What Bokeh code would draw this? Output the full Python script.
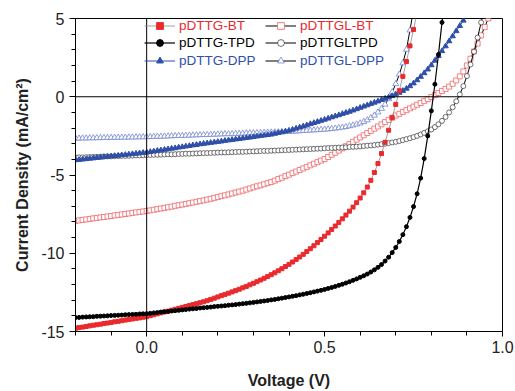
import numpy as np
from bokeh.plotting import figure
from bokeh.models import (Span, Legend, LegendItem, FixedTicker,
                          PrintfTickFormatter)
from bokeh.embed import file_html
from bokeh.resources import INLINE

# Voltage sweep grid (V), 0.01 V steps starting at -0.20 V
voltage = np.round(np.arange(-20, 98) / 100.0, 2)

# Current density (mA/cm^2) for each device
pdttg_bt = [
    -14.79, -14.75, -14.72, -14.68, -14.64, -14.60, -14.57, -14.53, -14.49, -14.46,
    -14.42, -14.38, -14.35, -14.31, -14.27, -14.24, -14.20, -14.16, -14.13, -14.09,
    -14.05,
    -13.99, -13.93, -13.87, -13.81, -13.75, -13.70, -13.64, -13.58, -13.52, -13.46,
    -13.40, -13.34, -13.28, -13.22, -13.16, -13.10, -13.03, -12.95, -12.87, -12.79,
    -12.71, -12.63, -12.55, -12.47, -12.39, -12.30, -12.21, -12.12, -12.02, -11.92,
    -11.82, -11.71, -11.60, -11.49, -11.37, -11.25, -11.12, -10.99, -10.85, -10.71,
    -10.56, -10.40, -10.24, -10.07, -9.89, -9.71, -9.52, -9.32, -9.12, -8.91,
    -8.70, -8.48, -8.26, -8.03, -7.80, -7.56, -7.31, -7.05, -6.77, -6.47,
    -6.14, -5.77, -5.34, -4.84, -4.27, -3.63, -2.91, -2.14, -1.33, -0.49,
    0.39, 1.30, 2.25, 3.25, 4.30, 5.40]

pdttgl_bt = [
    -7.93, -7.90, -7.87, -7.84, -7.81, -7.77, -7.74, -7.71, -7.68, -7.65,
    -7.62, -7.58, -7.55, -7.52, -7.49, -7.46, -7.42, -7.39, -7.36, -7.33,
    -7.30,
    -7.26, -7.22, -7.18, -7.14, -7.10, -7.06, -7.02, -6.97, -6.93, -6.89,
    -6.85, -6.80, -6.76, -6.71, -6.67, -6.62, -6.57, -6.52, -6.46, -6.41,
    -6.35, -6.30, -6.24, -6.18, -6.12, -6.06, -6.00, -5.93, -5.86, -5.79,
    -5.72, -5.66, -5.59, -5.52, -5.45, -5.36, -5.26, -5.17, -5.07, -4.98,
    -4.88, -4.78, -4.68, -4.58, -4.48, -4.38, -4.28, -4.18, -4.08, -3.98,
    -3.85, -3.71, -3.58, -3.44, -3.30, -3.16, -3.02, -2.88, -2.74, -2.60,
    -2.46, -2.32, -2.18, -2.04, -1.90, -1.76, -1.62, -1.48, -1.34, -1.20,
    -1.09, -0.97, -0.86, -0.74, -0.63, -0.51, -0.40, -0.28, -0.15, -0.02,
    0.11, 0.24, 0.37, 0.50, 0.65, 0.83, 1.04, 1.30, 1.62, 2.00,
    2.43, 2.90, 3.40, 3.92, 4.45, 5.00, 5.55]

pdttg_tpd = [
    -14.11, -14.10, -14.08, -14.07, -14.06, -14.05, -14.03, -14.02, -14.01, -14.00,
    -13.98, -13.97, -13.96, -13.95, -13.93, -13.92, -13.91, -13.90, -13.88, -13.87,
    -13.86,
    -13.84, -13.81, -13.79, -13.76, -13.74, -13.72, -13.69, -13.67, -13.65, -13.62,
    -13.60, -13.57, -13.55, -13.53, -13.50, -13.48, -13.46, -13.44, -13.41, -13.39,
    -13.37, -13.35, -13.32, -13.30, -13.28, -13.25, -13.22, -13.20, -13.17, -13.14,
    -13.11, -13.08, -13.05, -13.02, -12.98, -12.95, -12.91, -12.87, -12.83, -12.79,
    -12.75, -12.71, -12.66, -12.62, -12.57, -12.52, -12.47, -12.42, -12.37, -12.31,
    -12.25, -12.19, -12.12, -12.05, -11.98, -11.90, -11.82, -11.73, -11.64, -11.54,
    -11.44, -11.33, -11.20, -11.06, -10.90, -10.72, -10.50, -10.25, -9.96, -9.63,
    -9.25, -8.81, -8.30, -7.71, -7.02, -6.20, -5.20, -3.95, -2.50, -0.90,
    0.80, 2.70, 4.75, 6.90]

pdttgl_tpd = [
    -3.88, -3.87, -3.87, -3.86, -3.85, -3.84, -3.84, -3.83, -3.82, -3.81,
    -3.81, -3.80, -3.79, -3.78, -3.78, -3.77, -3.76, -3.75, -3.75, -3.74,
    -3.73,
    -3.72, -3.71, -3.71, -3.70, -3.69, -3.68, -3.68, -3.67, -3.66, -3.65,
    -3.64, -3.64, -3.63, -3.62, -3.61, -3.60, -3.60, -3.59, -3.58, -3.57,
    -3.56, -3.56, -3.55, -3.54, -3.53, -3.52, -3.52, -3.51, -3.50, -3.49,
    -3.48, -3.47, -3.46, -3.46, -3.45, -3.44, -3.43, -3.42, -3.41, -3.40,
    -3.39, -3.38, -3.37, -3.36, -3.35, -3.34, -3.33, -3.32, -3.31, -3.29,
    -3.28, -3.27, -3.26, -3.25, -3.24, -3.23, -3.21, -3.20, -3.19, -3.17,
    -3.15, -3.13, -3.11, -3.09, -3.06, -3.03, -3.00, -2.96, -2.92, -2.88,
    -2.83, -2.77, -2.71, -2.65, -2.58, -2.50, -2.41, -2.31, -2.21, -2.09,
    -1.94, -1.76, -1.54, -1.29, -1.00, -0.67, -0.29, 0.15, 0.68, 1.32,
    2.06, 2.88, 3.78, 4.75, 5.75]

pdttg_dpp = [
    -4.05, -4.03, -4.00, -3.98, -3.95, -3.93, -3.90, -3.88, -3.85, -3.83,
    -3.80, -3.78, -3.76, -3.73, -3.71, -3.68, -3.66, -3.63, -3.61, -3.58,
    -3.56,
    -3.52, -3.49, -3.45, -3.42, -3.38, -3.35, -3.31, -3.28, -3.24, -3.21,
    -3.17, -3.14, -3.10, -3.07, -3.03, -3.00, -2.97, -2.94, -2.91, -2.88,
    -2.85, -2.81, -2.78, -2.75, -2.72, -2.69, -2.66, -2.63, -2.60, -2.57,
    -2.53, -2.50, -2.47, -2.44, -2.41, -2.36, -2.31, -2.26, -2.21, -2.16,
    -2.10, -2.03, -1.96, -1.89, -1.82, -1.74, -1.67, -1.60, -1.53, -1.46,
    -1.39, -1.31, -1.24, -1.17, -1.09, -1.02, -0.95, -0.87, -0.79, -0.70,
    -0.62, -0.54, -0.45, -0.37, -0.29, -0.20, -0.12, -0.04, 0.05, 0.15,
    0.26, 0.38, 0.52, 0.68, 0.86, 1.06, 1.28, 1.51, 1.75, 2.02,
    2.31, 2.61, 2.92, 3.23, 3.55, 3.87, 4.20, 4.53, 4.87, 5.21]

pdttgl_dpp = [
    -2.66, -2.66, -2.65, -2.65, -2.64, -2.64, -2.63, -2.63, -2.62, -2.62,
    -2.61, -2.61, -2.60, -2.60, -2.60, -2.59, -2.59, -2.58, -2.58, -2.57,
    -2.57,
    -2.56, -2.55, -2.54, -2.54, -2.53, -2.52, -2.51, -2.50, -2.49, -2.49,
    -2.48, -2.47, -2.46, -2.45, -2.44, -2.43, -2.43, -2.42, -2.41, -2.40,
    -2.39, -2.38, -2.38, -2.37, -2.36, -2.35, -2.34, -2.33, -2.32, -2.32,
    -2.31, -2.30, -2.29, -2.28, -2.27, -2.26, -2.26, -2.25, -2.24, -2.23,
    -2.22, -2.20, -2.19, -2.17, -2.16, -2.15, -2.13, -2.12, -2.10, -2.09,
    -2.07, -2.05, -2.02, -1.99, -1.96, -1.92, -1.87, -1.82, -1.76, -1.69,
    -1.60, -1.49, -1.35, -1.19, -0.99, -0.76, -0.49, -0.14, 0.30, 0.82,
    1.43, 2.15, 3.02, 4.25, 5.60]

x_major = [0.0, 0.5, 1.0]
x_minor = [-0.2, -0.1, 0.1, 0.2, 0.3, 0.4, 0.6, 0.7, 0.8, 0.9]
y_major = [-15, -10, -5, 0, 5]
y_minor = list(range(-15, 6))

RED = "#ea2a2e"
PINK = "#ee6468"
BLUE = "#2f4fa8"
LBLUE = "#7385cf"
FONT = "Liberation Sans"

p = figure(width=515, height=391, x_range=(-0.2, 1.0), y_range=(-15, 5),
           output_backend="svg", toolbar_location=None,
           min_border_left=75, min_border_right=13,
           min_border_top=18, min_border_bottom=57)
p.grid.visible = False
p.outline_line_color = "black"
p.outline_line_width = 1
p.outline_line_alpha = 1.0
p.background_fill_color = "white"
p.border_fill_color = "white"

p.add_layout(Span(location=0, dimension="height", line_color="black", line_width=1))
p.add_layout(Span(location=0, dimension="width", line_color="black", line_width=1))


def xs(vals):
    return list(voltage[:len(vals)])


# pDTTGL-BT (open red squares, black line)
l_b = p.line(xs(pdttgl_bt), pdttgl_bt, line_color="black", line_width=1)
s_b = p.scatter(xs(pdttgl_bt), pdttgl_bt, marker="square", size=5,
                line_color=PINK, line_width=0.8, fill_color="white")
# pDTTGL-TPD (open black circles)
l_d = p.line(xs(pdttgl_tpd), pdttgl_tpd, line_color="black", line_width=1)
s_d = p.scatter(xs(pdttgl_tpd), pdttgl_tpd, marker="circle", size=5,
                line_color="#333333", line_width=0.7, fill_color="white")
# pDTTGL-DPP (open blue triangles, black line)
l_f = p.line(xs(pdttgl_dpp), pdttgl_dpp, line_color="black", line_width=1)
s_f = p.scatter(xs(pdttgl_dpp), pdttgl_dpp, marker="triangle", size=6,
                line_color=LBLUE, line_width=0.8, fill_color="white")
# pDTTG-DPP (filled blue triangles)
l_e = p.line(xs(pdttg_dpp), pdttg_dpp, line_color=BLUE, line_width=1)
s_e = p.scatter(xs(pdttg_dpp), pdttg_dpp, marker="triangle", size=5.5,
                line_color=BLUE, fill_color=BLUE)
# pDTTG-BT (filled red squares, thin grey line)
l_a = p.line(xs(pdttg_bt), pdttg_bt, line_color="#888888", line_width=0.8)
s_a = p.scatter(xs(pdttg_bt), pdttg_bt, marker="square", size=4,
                line_color=RED, fill_color=RED)
# pDTTG-TPD (filled black circles)
l_c = p.line(xs(pdttg_tpd), pdttg_tpd, line_color="black", line_width=1.2)
s_c = p.scatter(xs(pdttg_tpd), pdttg_tpd, marker="circle", size=4,
                line_color="black", fill_color="black")

rows = [
    (RED, [("pDTTG-BT", [l_a, s_a]), ("pDTTGL-BT", [l_b, s_b])], 297),
    ("black", [("pDTTG-TPD", [l_c, s_c]), ("pDTTGLTPD", [l_d, s_d])], 280),
    (BLUE, [("pDTTG-DPP", [l_e, s_e]), ("pDTTGL-DPP", [l_f, s_f])], 262),
]
for color, items, ypos in rows:
    leg = Legend(items=[LegendItem(label=t, renderers=r) for t, r in items],
                 orientation="horizontal", location=(69, ypos),
                 label_text_color=color, label_text_font=FONT,
                 label_text_font_size="13.5px", glyph_width=31,
                 glyph_height=17, label_height=17, label_standoff=4,
                 label_width=86, spacing=0, padding=0, margin=0,
                 border_line_color=None, background_fill_alpha=0)
    p.add_layout(leg)

for ax in (p.xaxis[0], p.yaxis[0]):
    ax.axis_line_color = "black"
    ax.major_tick_line_color = "black"
    ax.minor_tick_line_color = "black"
    ax.major_label_text_font = FONT
    ax.major_label_text_font_size = "16px"
    ax.major_label_text_color = "#222222"
    ax.axis_label_text_font = FONT
    ax.axis_label_text_font_size = "16px"
    ax.axis_label_text_font_style = "bold"
    ax.axis_label_text_color = "#222222"
    ax.major_tick_in = 0
    ax.minor_tick_in = 0

p.xaxis.ticker = FixedTicker(ticks=x_major, minor_ticks=x_minor)
p.xaxis.formatter = PrintfTickFormatter(format="%.1f")
p.xaxis.major_tick_out = 5
p.xaxis.minor_tick_out = 4
p.xaxis.major_label_standoff = 4
p.xaxis.axis_label = "Voltage (V)"
p.xaxis.axis_label_standoff = 16

p.yaxis.ticker = FixedTicker(ticks=y_major, minor_ticks=y_minor)
p.yaxis.formatter = PrintfTickFormatter(format="%d")
p.yaxis.major_tick_out = 6
p.yaxis.minor_tick_out = 4
p.yaxis.major_label_standoff = 5
p.yaxis.axis_label = "Current Density (mA/cm\u00b2)"
p.yaxis.axis_label_standoff = 7

open("out.html", "w").write(file_html(p, INLINE))
